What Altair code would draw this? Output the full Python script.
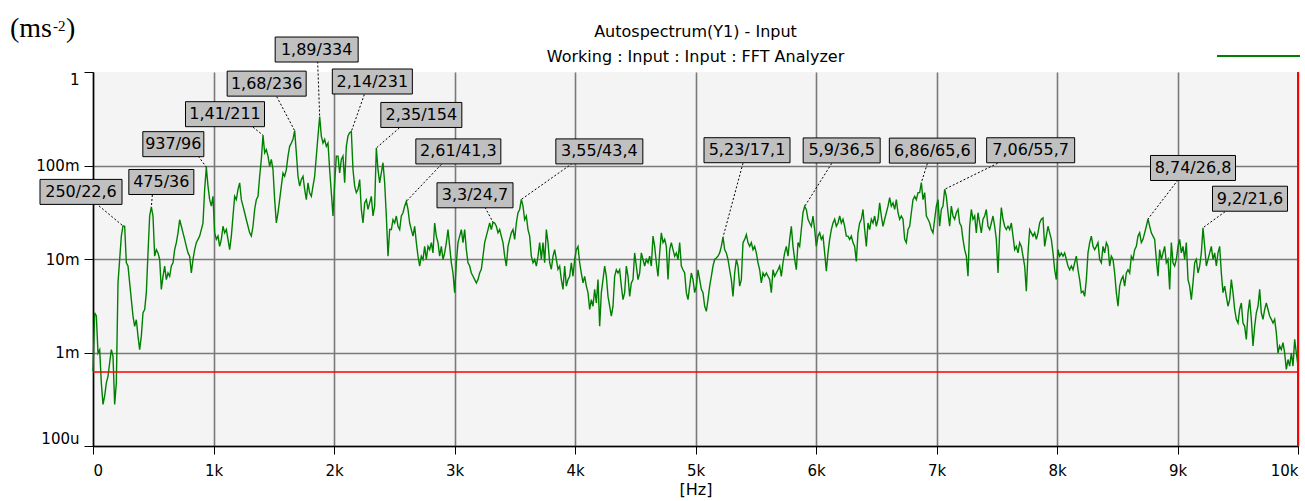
import altair as alt
import numpy as np
import pandas as pd

# Analyzer span and number of lines (0 Hz .. 10 kHz)
SPAN_HZ = 10000.0
N_LINES = 724
LINE_HZ = SPAN_HZ / (N_LINES - 1)

# Autospectrum level per line, dB re 1 ms^-2, in consecutive blocks
LEVEL_DB_0_705 = [
    -64.0, -51.5, -52.2, -60.1, -59.4, -66.5, -71.1, -69.3, -66.5, -65.1,
    -62.2, -59.4, -60.8, -71.1, -66.5, -45.1, -40.1, -35.1, -32.3, -33.0,
    -40.8, -41.5, -45.1, -48.7, -52.2, -54.4, -53.0, -56.5, -59.4, -56.5,
    -51.5, -50.8, -47.2, -38.7, -30.8, -28.0, -30.8, -39.4, -38.0, -38.7,
    -40.1, -46.5, -43.7, -41.5, -44.4, -43.0, -43.7, -41.5, -40.8, -38.0,
    -36.5, -34.4,
]
LEVEL_DB_719_1867 = [
    -31.6, -33.0, -34.4, -35.8, -37.3, -38.7, -39.4, -43.0, -40.1, -38.0,
    -36.5, -35.8, -35.1, -33.7, -32.3, -25.1, -20.2, -24.4, -27.3, -28.7,
    -26.6, -34.4, -35.8, -35.1, -37.3, -35.8, -33.0, -34.4, -33.7, -35.8,
    -38.0, -35.1, -30.8, -26.6, -27.3, -25.1, -23.7, -27.3, -28.7, -30.1,
    -31.6, -33.0, -34.4, -35.1, -33.0, -29.4, -27.3, -26.6, -22.3, -18.7,
    -13.4, -17.3, -16.6, -18.0, -20.2, -18.7, -20.9, -27.3, -32.3, -30.1,
    -27.3, -24.4, -21.6, -22.3, -20.9, -18.0, -15.9, -15.2, -14.4, -12.3,
    -17.3, -22.3, -24.4, -23.0, -22.3, -25.1, -27.3, -23.7, -25.9, -26.6,
    -24.4, -22.3, -18.0, -13.7,
]
LEVEL_DB_1881_3859 = [
    -9.5, -13.7, -15.2, -14.4, -15.9, -15.2, -20.9, -25.8, -30.8, -23.7,
    -18.0, -18.0, -21.6, -18.7, -18.0, -23.7, -15.9, -13.7, -13.0, -12.3,
    -20.9, -24.4, -25.8, -25.1, -23.0, -29.4, -32.3, -28.0, -27.3, -29.4,
    -28.0, -26.6, -30.8, -28.7, -15.5, -20.9, -23.7, -21.6, -19.4, -23.7,
    -30.8, -39.4, -33.7, -33.7, -31.6, -32.3, -30.8, -33.0, -33.7, -30.8,
    -30.1, -28.7, -27.3, -29.4, -32.3, -33.7, -35.1, -33.0, -36.5, -39.4,
    -41.5, -39.4, -40.1, -37.3, -40.1, -37.3, -38.0, -36.5, -38.7, -32.3,
    -35.1, -36.5, -39.4, -37.3, -40.1, -38.7, -36.5, -33.7, -37.3, -40.8,
    -43.0, -47.2, -40.8, -36.5, -35.1, -33.7, -36.5, -33.7, -38.0, -40.8,
    -41.5, -43.0, -43.7, -44.4, -45.1, -44.4, -43.0, -42.2, -39.4, -36.5,
    -35.1, -33.7, -32.3, -33.7, -31.6, -32.3, -33.0, -34.4, -33.7, -35.1,
    -36.5, -39.4, -41.5, -37.3, -35.8, -34.4, -33.7, -35.8, -32.3, -30.1,
    -29.4, -26.6, -28.7, -31.6, -30.8, -33.7, -35.1, -39.4, -40.8, -40.1,
    -41.5, -39.4, -36.5, -40.1, -36.5, -40.8, -33.7, -36.5, -40.8, -42.2,
    -39.4, -38.0, -40.1, -42.2,
]
LEVEL_DB_3873_5851 = [
    -41.5, -44.4, -46.5, -41.5, -45.8, -44.4, -43.7, -40.8, -43.7, -40.1,
    -38.0, -37.3, -40.8, -43.0, -45.1, -43.7, -45.8, -47.2, -50.8, -48.7,
    -50.1, -46.5, -49.4, -44.4, -54.4, -47.2, -44.4, -41.5, -43.7, -48.0,
    -50.1, -52.2, -50.1, -43.7, -42.3, -43.0, -42.3, -45.8, -48.7, -47.2,
    -41.5, -43.7, -48.0, -45.1, -44.4, -38.7, -41.5, -44.4, -43.0, -38.7,
    -40.1, -41.5, -40.1, -40.8, -39.4, -41.5, -35.1, -37.3, -40.8, -43.7,
    -38.7, -34.4, -36.5, -35.8, -37.3, -44.4, -38.0, -36.5, -38.0, -39.4,
    -38.7, -40.1, -36.5, -41.5, -42.3, -43.0, -47.2, -48.7, -45.8, -43.0,
    -44.4, -47.2, -45.8, -42.3, -44.4, -46.5, -47.2, -50.1, -51.2, -48.7,
    -45.8, -43.7, -41.5, -40.1, -39.8, -39.4, -38.7, -37.3, -35.1, -38.0,
    -38.7, -40.1, -42.3, -44.4, -48.0, -43.0, -40.1, -41.5, -45.8, -44.4,
    -36.5, -35.8, -34.8, -36.5, -37.3, -36.5, -38.0, -37.3, -38.7, -40.8,
    -42.3, -45.1, -43.0, -43.7, -43.0, -43.7, -44.4, -47.2, -42.3, -43.7,
    -43.0, -42.3, -41.5, -43.7, -40.8, -38.7, -37.3, -39.4, -35.8, -33.0,
    -37.3, -40.1, -42.3, -36.5,
]
LEVEL_DB_5864_7842 = [
    -37.3, -33.7, -30.1, -28.3, -29.4, -31.5, -32.3, -33.0, -30.8, -33.7,
    -37.3, -35.1, -34.4, -35.8, -35.1, -38.7, -42.6, -38.7, -35.8, -33.7,
    -32.3, -31.5, -33.0, -32.3, -30.8, -32.3, -31.5, -33.0, -35.1, -35.1,
    -35.8, -35.1, -36.5, -37.3, -40.5, -34.4, -32.3, -31.5, -29.4, -33.7,
    -37.3, -32.3, -33.7, -31.5, -32.3, -30.8, -33.0, -31.5, -28.0, -30.8,
    -33.0, -31.5, -30.1, -28.7, -26.9, -28.7, -28.0, -29.4, -27.3, -30.1,
    -31.5, -30.8, -31.5, -35.8, -36.5, -33.7, -33.0, -30.1, -27.3, -26.6,
    -27.3, -25.8, -25.8, -23.4, -27.3, -25.8, -30.8, -31.5, -32.3, -33.7,
    -34.4, -31.5, -28.7, -27.3, -33.0, -29.4, -28.7, -24.8, -26.6, -30.1,
    -33.0, -28.7, -30.8, -31.5, -30.1, -29.4, -32.3, -33.0, -35.8, -38.0,
    -39.4, -43.7, -33.0, -29.4, -31.5, -30.8, -34.4, -30.1, -32.3, -34.4,
    -31.5, -30.8, -29.4, -33.0, -33.7, -32.3, -30.8, -33.0, -35.8, -43.0,
    -34.4, -29.0, -31.5, -33.0, -33.7, -33.0, -33.7, -32.3, -35.1, -38.0,
    -37.3, -38.7, -36.5, -37.3, -39.4, -41.5, -46.9, -38.7, -33.7, -34.4,
    -35.1, -34.4, -35.8, -34.4,
]
LEVEL_DB_7856_10000 = [
    -32.3, -31.5, -31.2, -37.3, -35.1, -33.0, -34.4, -35.8, -38.7, -42.3,
    -44.4, -38.0, -39.4, -38.7, -39.4, -38.7, -40.1, -41.5, -42.3, -41.5,
    -42.3, -40.8, -39.4, -42.3, -44.4, -47.2, -46.9, -48.0, -44.4, -38.7,
    -36.5, -35.1, -37.3, -38.0, -37.3, -36.5, -40.1, -40.8, -37.3, -38.7,
    -36.5, -37.3, -41.5, -39.4, -40.1, -43.0, -47.2, -50.1, -45.8, -44.4,
    -43.7, -45.8, -43.0, -42.3, -43.0, -39.4, -40.1, -38.0, -37.3, -35.1,
    -34.4, -36.5, -35.8, -34.4, -33.0, -31.2, -33.0, -34.4, -35.1, -35.8,
    -40.1, -43.7, -38.0, -40.1, -38.7, -37.3, -40.8, -40.1, -46.5, -36.5,
    -40.8, -41.5, -40.1, -37.3, -35.8, -38.7, -37.3, -40.1, -36.5, -44.4,
    -45.8, -48.7, -45.1, -40.8, -40.1, -43.0, -41.5, -38.7, -33.0, -37.3,
    -41.5, -40.1, -38.7, -37.3, -40.1, -38.7, -41.5, -38.7, -37.3, -43.0,
    -47.2, -45.8, -48.0, -50.1, -48.7, -44.4, -47.2, -50.8, -52.9, -53.7,
    -50.8, -49.4, -53.7, -54.4, -57.2, -51.5, -48.7, -52.9, -58.6, -54.4,
    -51.5, -50.1, -46.5, -51.5, -52.9, -50.8, -49.4, -50.8, -52.2, -52.9,
    -53.7, -52.9, -55.8, -60.1, -58.6, -59.4, -57.9, -60.1, -63.6, -61.5,
    -62.9, -60.1, -62.9, -57.2, -60.1, -62.9,
]

# Peak markers as read out by the analyzer: frequency (Hz) / level (m ms^-2)
MARKER_HZ = [250, 475, 937, 1410, 1680, 1890, 2140, 2350, 2610, 3300,
             3550, 5230, 5900, 6860, 7060, 8740, 9200]
MARKER_MILLI = [22.6, 36, 96, 211, 236, 334, 231, 154, 41.3, 24.7,
                43.4, 17.1, 36.5, 65.6, 55.7, 26.8, 21.6]

# Marker label placement in px relative to the peak:
# (box centre dx, box centre dy, leader start dx, leader start dy, box width)
MARKER_LAYOUT = [
    (-42, -34, -24, -20, 82), (10, -25, 1, -12, 65), (-33, -23, -8, -11, 61),
    (-38, -21, -10, -8, 79), (-28, -47, -18, -34, 79), (-3, -67, -2, -55, 83),
    (21, -50, 13, -37, 80), (45, -33, 23, -20, 81), (52, -50, 35, -37, 85),
    (-18, -27, -8, -15, 76), (78, -48, 51, -36, 87), (24, -87, 20, -74, 86),
    (37, -56, 27, -43, 77), (11, -32, 6, -19, 86), (86, -39, 53, -26, 88),
    (45, -51, 30, -39, 85), (47, -29, 22, -16, 75),
]
BOX_HEIGHT = 25

# Reference cursor level (ms^-2) and cursor frequency (Hz)
CURSOR_LEVEL = 0.00062
CURSOR_HZ = 10000

X_TICKS = [0, 1000, 2000, 3000, 4000, 5000, 6000, 7000, 8000, 9000, 10000]
X_TICK_LABELS = ["0", "1k", "2k", "3k", "4k", "5k", "6k", "7k", "8k", "9k", "10k"]
Y_TICKS = [0.0001, 0.001, 0.01, 0.1, 1.0]
Y_TICK_LABELS = ["100u", "1m", "10m", "100m", "1"]

TITLE_LINES = ["Autospectrum(Y1) - Input", "Working : Input : Input : FFT Analyzer"]

FONT = "DejaVu Sans"
GREEN = "#008000"
PLOT_W, PLOT_H = 1205, 374

# ---------------------------------------------------------------- data
levels = np.array(LEVEL_DB_0_705 + LEVEL_DB_719_1867 + LEVEL_DB_1881_3859
                  + LEVEL_DB_3873_5851 + LEVEL_DB_5864_7842 + LEVEL_DB_7856_10000)
freq = np.linspace(0.0, SPAN_HZ, N_LINES)
amp = 10.0 ** (levels / 20.0)

def fmt_hz(f):
    return str(f) if f < 1000 else f"{f / 1000:g}".replace(".", ",")

def fmt_milli(v):
    return f"{v:g}".replace(".", ",")

rows = []
for f, v, (bx, by, sx, sy, w) in zip(MARKER_HZ, MARKER_MILLI, MARKER_LAYOUT):
    i0 = int(round(f / LINE_HZ))
    lo, hi = max(i0 - 2, 0), min(i0 + 3, N_LINES)
    i = lo + int(np.argmax(levels[lo:hi]))
    amp[i] = v / 1000.0
    h = BOX_HEIGHT / 2
    rows.append({
        "f": float(freq[i]), "a": float(amp[i]),
        "label": f"{fmt_hz(f)}/{fmt_milli(v)}",
        "box": f"M{bx - w / 2},{by - h}H{bx + w / 2}V{by + h}H{bx - w / 2}Z",
        "leader": f"M{sx},{sy}L0,0",
        "dx": bx, "dy": by,
    })

spectrum = pd.DataFrame({"f": freq, "a": amp})
markers = pd.DataFrame(rows)

def label_expr(values, labels, rel=False):
    expr = f"'{labels[-1]}'"
    for v, lab in reversed(list(zip(values[:-1], labels[:-1]))):
        test = f"abs(datum.value / {v} - 1) < 1e-6" if rel else f"abs(datum.value - {v}) < 0.5"
        expr = f"{test} ? '{lab}' : ({expr})"
    return expr

x_enc = alt.X(
    "f:Q",
    scale=alt.Scale(domain=[0, SPAN_HZ], nice=False, zero=False),
    axis=alt.Axis(
        values=X_TICKS, labelExpr=label_expr(X_TICKS, X_TICK_LABELS),
        labelFlush=True, labelOverlap=False, title="[Hz]",
        titleFont=FONT, titleFontSize=16, titleFontWeight="normal", titleColor="black",
        titlePadding=3, labelFont=FONT, labelFontSize=15, labelColor="black",
        labelPadding=9, tickSize=8, tickColor="black", tickWidth=1,
        domainColor="black", domainWidth=1.5,
        grid=True, gridColor="#7a7a7a", gridWidth=1.6,
    ),
)
y_enc = alt.Y(
    "a:Q",
    scale=alt.Scale(type="log", domain=[Y_TICKS[0], Y_TICKS[-1]], nice=False),
    axis=alt.Axis(
        values=Y_TICKS, labelExpr=label_expr(Y_TICKS, Y_TICK_LABELS, rel=True),
        labelFlush=True, labelOverlap=False, title="",
        labelFont=FONT, labelFontSize=15, labelColor="black", labelPadding=5,
        tickSize=9, tickColor="black", tickWidth=1,
        domainColor="black", domainWidth=1.5,
        grid=True, gridColor="#7a7a7a", gridWidth=1.6,
        gridOpacity={"condition": {"test": "datum.value > 0.5", "value": 0}, "value": 1},
    ),
)

curve = alt.Chart(spectrum).mark_line(color=GREEN, strokeWidth=1.4).encode(x=x_enc, y=y_enc)

level_cursor = alt.Chart(pd.DataFrame({"a": [CURSOR_LEVEL]})).mark_rule(
    color="red", strokeWidth=1.5).encode(y=y_enc)
freq_cursor = alt.Chart(pd.DataFrame({"f": [CURSOR_HZ]})).mark_rule(
    color="red", strokeWidth=2).encode(x=x_enc)

leaders = alt.Chart(markers).mark_point(
    filled=False, stroke="black", strokeWidth=1, strokeDash=[2, 2], opacity=1
).encode(x=x_enc, y=y_enc, shape=alt.Shape("leader:N", scale=None), size=alt.value(4))

boxes = alt.Chart(markers).mark_point(
    filled=True, fill="#c0c0c0", stroke="black", strokeWidth=1, opacity=1, fillOpacity=1
).encode(x=x_enc, y=y_enc, shape=alt.Shape("box:N", scale=None), size=alt.value(4))

texts = []
for r in rows:
    texts.append(
        alt.Chart(pd.DataFrame([r])).mark_text(
            dx=r["dx"], dy=r["dy"], align="center", baseline="middle",
            font=FONT, fontSize=16, color="black",
        ).encode(x=x_enc, y=y_enc, text="label:N")
    )

one = pd.DataFrame({"k": [0]})
title1 = alt.Chart(pd.DataFrame({"t": [TITLE_LINES[0]]})).mark_text(
    align="center", baseline="alphabetic", font=FONT, fontSize=16, color="black"
).encode(x=alt.value(PLOT_W / 2), y=alt.value(-35), text="t:N")
title2 = alt.Chart(pd.DataFrame({"t": [TITLE_LINES[1]]})).mark_text(
    align="center", baseline="alphabetic", font=FONT, fontSize=16, color="black"
).encode(x=alt.value(PLOT_W / 2), y=alt.value(-10), text="t:N")

# y unit in the top-left corner: "(ms" + superscript "-2" + ")"
unit_a = alt.Chart(pd.DataFrame({"t": ["(ms"]})).mark_text(
    align="left", baseline="alphabetic", font="Liberation Serif", fontSize=28, color="black"
).encode(x=alt.value(-83), y=alt.value(-35), text="t:N")
unit_b = alt.Chart(pd.DataFrame({"t": ["-2"]})).mark_text(
    align="left", baseline="alphabetic", font="Liberation Serif", fontSize=15, color="black"
).encode(x=alt.value(-40), y=alt.value(-41), text="t:N")
unit_c = alt.Chart(pd.DataFrame({"t": [")"]})).mark_text(
    align="left", baseline="alphabetic", font="Liberation Serif", fontSize=28, color="black"
).encode(x=alt.value(-27), y=alt.value(-35), text="t:N")

trace_key = alt.Chart(one).mark_rule(color=GREEN, strokeWidth=2).encode(
    x=alt.value(1124), x2=alt.value(1207), y=alt.value(-16))

chart = alt.layer(
    curve, level_cursor, freq_cursor, leaders, boxes, *texts,
    title1, title2, unit_a, unit_b, unit_c, trace_key,
).properties(
    width=PLOT_W, height=PLOT_H,
    autosize=alt.AutoSizeParams(type="none"),
    padding={"left": 93, "top": 72, "right": 7, "bottom": 55},
    background="white",
).configure_view(fill="#f4f4f4", strokeWidth=0)

chart.save("out.html", embed_options={"renderer": "svg", "actions": False})
